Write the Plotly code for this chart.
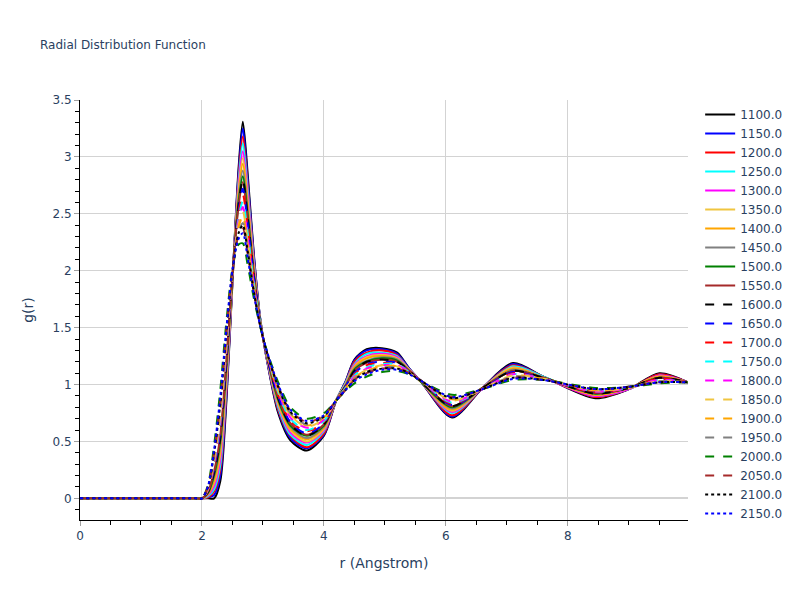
import plotly.graph_objects as go

## DATA: g(r) at shared r knots

r = [0.0, 1.9, 2.0, 2.1, 2.2, 2.3, 2.4, 2.5, 2.6, 2.67, 2.75, 2.85, 2.95, 3.05,
     3.25, 3.45, 3.72, 4.0, 4.2, 4.35, 4.5, 4.7, 4.95, 5.2, 5.4, 5.6, 6.1, 6.6,
     7.1, 7.6, 8.45, 9.0, 9.5, 9.97]

temperatures = [1100.0, 1150.0, 1200.0, 1250.0, 1300.0, 1350.0, 1400.0, 1450.0,
                1500.0, 1550.0, 1600.0, 1650.0, 1700.0, 1750.0, 1800.0, 1850.0,
                1900.0, 1950.0, 2000.0, 2050.0, 2100.0, 2150.0]

g_1100 = [0, 0, 0, 0, 0, 0.15, 0.85, 1.90, 2.90, 3.31, 2.85, 2.15, 1.60, 1.26, 0.75, 0.51, 0.42, 0.55, 0.86, 1.02, 1.22, 1.31, 1.32, 1.28, 1.14, 1.02, 0.71, 0.97, 1.19, 1.07, 0.88, 0.96, 1.10, 1.02]
g_1150 = [0, 0, 0, 0.01, 0.03, 0.20, 0.89, 1.91, 2.86, 3.25, 2.80, 2.13, 1.60, 1.26, 0.77, 0.53, 0.44, 0.56, 0.86, 1.02, 1.21, 1.30, 1.31, 1.27, 1.14, 1.02, 0.72, 0.97, 1.18, 1.07, 0.89, 0.96, 1.09, 1.02]
g_1200 = [0, 0, 0, 0.01, 0.06, 0.25, 0.93, 1.91, 2.82, 3.18, 2.75, 2.10, 1.59, 1.27, 0.78, 0.55, 0.45, 0.57, 0.86, 1.01, 1.20, 1.28, 1.30, 1.26, 1.13, 1.02, 0.73, 0.97, 1.17, 1.07, 0.89, 0.96, 1.09, 1.02]
g_1250 = [0, 0, 0, 0.02, 0.08, 0.29, 0.98, 1.92, 2.78, 3.12, 2.71, 2.08, 1.59, 1.27, 0.80, 0.56, 0.47, 0.59, 0.86, 1.01, 1.18, 1.27, 1.28, 1.25, 1.13, 1.02, 0.75, 0.97, 1.16, 1.07, 0.90, 0.96, 1.08, 1.02]
g_1300 = [0, 0, 0, 0.03, 0.11, 0.34, 1.02, 1.93, 2.74, 3.05, 2.66, 2.06, 1.58, 1.27, 0.82, 0.58, 0.49, 0.60, 0.86, 1.00, 1.17, 1.25, 1.27, 1.24, 1.13, 1.02, 0.76, 0.97, 1.15, 1.06, 0.90, 0.96, 1.08, 1.02]
g_1350 = [0, 0, 0, 0.04, 0.14, 0.39, 1.06, 1.94, 2.70, 2.99, 2.61, 2.03, 1.58, 1.28, 0.83, 0.60, 0.50, 0.61, 0.86, 1.00, 1.16, 1.24, 1.26, 1.23, 1.13, 1.02, 0.77, 0.97, 1.15, 1.06, 0.91, 0.97, 1.07, 1.02]
g_1400 = [0, 0, 0, 0.04, 0.16, 0.43, 1.10, 1.94, 2.67, 2.94, 2.57, 2.01, 1.57, 1.28, 0.85, 0.61, 0.52, 0.62, 0.86, 0.99, 1.15, 1.23, 1.25, 1.22, 1.12, 1.02, 0.78, 0.97, 1.14, 1.06, 0.91, 0.97, 1.07, 1.02]
g_1450 = [0, 0, 0, 0.05, 0.19, 0.47, 1.13, 1.95, 2.63, 2.88, 2.53, 1.99, 1.57, 1.28, 0.86, 0.63, 0.53, 0.63, 0.86, 0.99, 1.14, 1.21, 1.24, 1.22, 1.12, 1.02, 0.79, 0.97, 1.13, 1.06, 0.92, 0.97, 1.06, 1.02]
g_1500 = [0, 0, 0, 0.05, 0.21, 0.51, 1.17, 1.95, 2.60, 2.83, 2.49, 1.97, 1.56, 1.29, 0.87, 0.64, 0.55, 0.64, 0.86, 0.98, 1.13, 1.20, 1.23, 1.21, 1.12, 1.02, 0.80, 0.97, 1.12, 1.06, 0.92, 0.97, 1.06, 1.02]
g_1550 = [0, 0, 0, 0.06, 0.24, 0.55, 1.20, 1.96, 2.57, 2.78, 2.45, 1.96, 1.56, 1.29, 0.89, 0.66, 0.56, 0.65, 0.86, 0.98, 1.12, 1.19, 1.22, 1.20, 1.12, 1.03, 0.81, 0.97, 1.12, 1.06, 0.93, 0.97, 1.06, 1.02]
g_1600 = [0, 0, 0, 0.06, 0.23, 0.53, 1.19, 1.96, 2.58, 2.80, 2.47, 1.96, 1.56, 1.29, 0.88, 0.65, 0.55, 0.65, 0.86, 0.98, 1.12, 1.20, 1.22, 1.20, 1.12, 1.02, 0.81, 0.97, 1.12, 1.06, 0.92, 0.97, 1.06, 1.02]
g_1650 = [0, 0, 0, 0.07, 0.26, 0.59, 1.24, 1.97, 2.53, 2.72, 2.41, 1.94, 1.56, 1.29, 0.90, 0.67, 0.57, 0.66, 0.86, 0.98, 1.10, 1.18, 1.20, 1.19, 1.11, 1.03, 0.82, 0.96, 1.11, 1.05, 0.93, 0.97, 1.05, 1.02]
g_1700 = [0, 0, 0, 0.07, 0.28, 0.63, 1.27, 1.97, 2.50, 2.67, 2.37, 1.92, 1.55, 1.30, 0.91, 0.68, 0.59, 0.67, 0.86, 0.97, 1.09, 1.17, 1.19, 1.18, 1.11, 1.03, 0.83, 0.96, 1.10, 1.05, 0.93, 0.97, 1.05, 1.02]
g_1750 = [0, 0, 0, 0.08, 0.31, 0.67, 1.31, 1.98, 2.46, 2.61, 2.33, 1.90, 1.55, 1.30, 0.93, 0.70, 0.60, 0.68, 0.86, 0.97, 1.08, 1.15, 1.18, 1.18, 1.11, 1.03, 0.84, 0.96, 1.09, 1.05, 0.94, 0.97, 1.04, 1.02]
g_1800 = [0, 0, 0, 0.08, 0.33, 0.71, 1.34, 1.98, 2.43, 2.56, 2.29, 1.88, 1.54, 1.30, 0.94, 0.71, 0.62, 0.69, 0.86, 0.96, 1.07, 1.14, 1.17, 1.17, 1.11, 1.03, 0.85, 0.96, 1.09, 1.05, 0.94, 0.97, 1.04, 1.02]
g_1850 = [0, 0, 0, 0.09, 0.35, 0.74, 1.37, 1.99, 2.40, 2.52, 2.26, 1.86, 1.54, 1.30, 0.95, 0.73, 0.63, 0.70, 0.86, 0.96, 1.06, 1.13, 1.17, 1.16, 1.10, 1.03, 0.86, 0.96, 1.08, 1.05, 0.95, 0.97, 1.03, 1.02]
g_1900 = [0, 0, 0, 0.09, 0.37, 0.77, 1.40, 1.99, 2.38, 2.48, 2.23, 1.85, 1.54, 1.31, 0.96, 0.74, 0.64, 0.71, 0.86, 0.96, 1.06, 1.12, 1.16, 1.16, 1.10, 1.03, 0.87, 0.96, 1.07, 1.05, 0.95, 0.98, 1.03, 1.02]
g_1950 = [0, 0, 0, 0.10, 0.39, 0.81, 1.43, 2.00, 2.34, 2.42, 2.19, 1.83, 1.53, 1.31, 0.97, 0.75, 0.65, 0.72, 0.86, 0.95, 1.05, 1.11, 1.15, 1.15, 1.10, 1.03, 0.88, 0.96, 1.07, 1.04, 0.96, 0.98, 1.03, 1.02]
g_2000 = [0, 0, 0, 0.12, 0.47, 0.95, 1.55, 2.02, 2.23, 2.24, 2.05, 1.76, 1.52, 1.32, 1.02, 0.80, 0.70, 0.75, 0.86, 0.94, 1.01, 1.07, 1.11, 1.12, 1.09, 1.03, 0.91, 0.96, 1.04, 1.04, 0.97, 0.98, 1.01, 1.02]
g_2050 = [0, 0, 0, 0.11, 0.41, 0.85, 1.47, 2.01, 2.31, 2.37, 2.15, 1.81, 1.53, 1.31, 0.99, 0.77, 0.67, 0.73, 0.86, 0.95, 1.04, 1.10, 1.14, 1.14, 1.10, 1.03, 0.89, 0.96, 1.06, 1.04, 0.96, 0.98, 1.02, 1.02]
g_2100 = [0, 0, 0, 0.10, 0.40, 0.83, 1.45, 2.00, 2.33, 2.40, 2.17, 1.82, 1.53, 1.31, 0.98, 0.76, 0.66, 0.72, 0.86, 0.95, 1.04, 1.11, 1.14, 1.14, 1.10, 1.03, 0.88, 0.96, 1.06, 1.04, 0.96, 0.98, 1.02, 1.02]
g_2150 = [0, 0, 0, 0.11, 0.43, 0.89, 1.49, 2.01, 2.28, 2.33, 2.11, 1.79, 1.53, 1.32, 1.00, 0.78, 0.68, 0.73, 0.86, 0.95, 1.03, 1.09, 1.13, 1.13, 1.09, 1.03, 0.89, 0.96, 1.05, 1.04, 0.96, 0.98, 1.02, 1.02]

g_all = [g_1100, g_1150, g_1200, g_1250, g_1300, g_1350, g_1400, g_1450,
         g_1500, g_1550, g_1600, g_1650, g_1700, g_1750, g_1800, g_1850,
         g_1900, g_1950, g_2000, g_2050, g_2100, g_2150]

## STYLE: colour cycle, then solid -> dash -> dot

colors = ['black', 'blue', 'red', 'cyan', 'magenta', '#f0c540', 'orange',
          'gray', 'green', 'brown']
dashes = ['solid', 'dash', 'dot']

fig = go.Figure()

for i, (temp, g) in enumerate(zip(temperatures, g_all)):
    fig.add_trace(go.Scatter(x=r, y=g,
                             mode='lines',
                             name=str(temp),
                             line=dict(color=colors[i % 10],
                                       dash=dashes[i // 10],
                                       width=2,
                                       shape='spline',
                                       smoothing=0.8)))

# Axis look: black axis line, grey grid, minor ticks
axis_common = dict(showline=True, linecolor='black', linewidth=1,
                   gridcolor='lightgrey', zeroline=True,
                   zerolinecolor='lightgrey', zerolinewidth=2,
                   ticks='outside', tickcolor='#a0a0a0', ticklen=5)

fig.update_layout(title=dict(text='Radial Distribution Function', font=dict(size=12),
                             x=0.04, xanchor='left', y=0.938, yanchor='middle'),
                  font=dict(family='DejaVu Sans'),
                  width=800, height=600,
                  margin=dict(l=72, r=120, t=92, b=88),
                  plot_bgcolor='white',
                  legend=dict(maxheight=560),
                  xaxis=dict(axis_common, title='r (Angstrom)', range=[0, 9.97],
                             minor=dict(ticks='outside', dtick=0.5, tickcolor='black', ticklen=4)),
                  yaxis=dict(axis_common, title='g(r)', range=[-0.19, 3.5],
                             minor=dict(ticks='outside', dtick=0.1, tickcolor='black', ticklen=4)))

fig.write_html("out.html")
